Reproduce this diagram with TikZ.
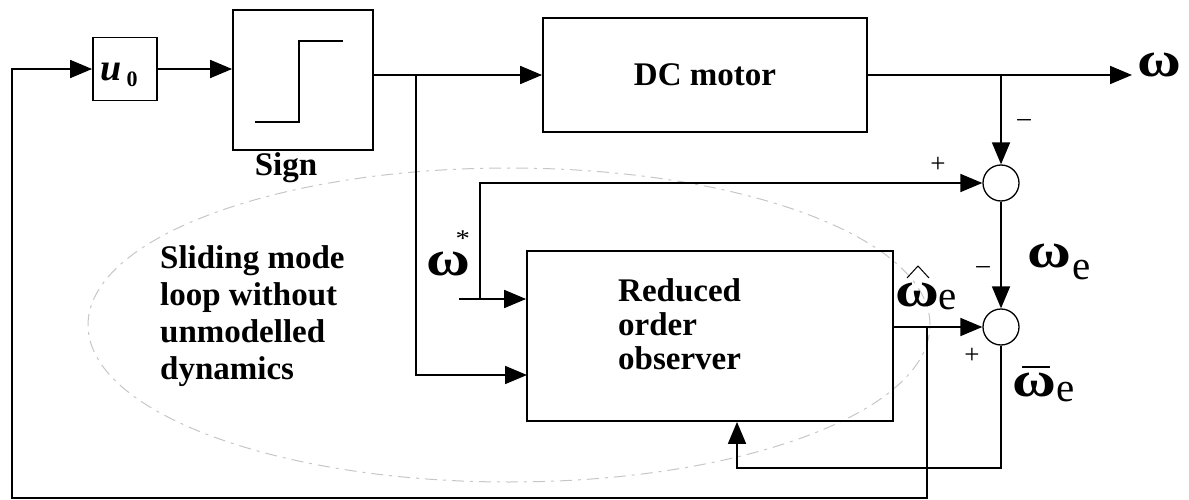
\documentclass[tikz,border=0pt]{standalone}
\usepackage{fontspec}
\setmainfont{Liberation Serif}
\usetikzlibrary{arrows.meta}
\begin{document}
\begin{tikzpicture}[x=1pt,y=-1pt,
  blk/.style={draw, line width=1.8pt, inner sep=0pt, font=\fontsize{33}{37}\selectfont\bfseries},
  sumc/.style={circle, draw, line width=1.3pt, minimum size=36pt, inner sep=0pt},
  conn/.style={line width=1.8pt},
  arr/.style={conn, -{Triangle[length=22pt,width=18pt]}},
  txt/.style={font=\fontsize{33}{37}\selectfont\bfseries, inner sep=0pt},
  sgn/.style={font=\fontsize{27}{27}\selectfont, inner sep=0pt},
  om/.style={font=\fontsize{50}{50}\selectfont\bfseries, inner sep=0pt, xscale=1.2, text height=1ex, text depth=0pt},
  sub/.style={font=\fontsize{41}{41}\selectfont, inner sep=0pt, text height=1ex, text depth=0pt}]
\useasboundingbox (0,0) rectangle (1189,500);
% dashed ellipse
\draw[gray!45, line width=1pt, dash pattern=on 12pt off 6pt on 3pt off 6pt] (509,325) ellipse [x radius=421pt, y radius=157pt];
% blocks
\node[blk, minimum width=64pt, minimum height=63pt] (u0) at (125,69) {};
\node[inner sep=0pt, font=\fontsize{38}{38}\selectfont\bfseries\itshape, text height=1ex, text depth=0pt] (u0t) at (111,78) {u};
\node[inner sep=0pt, font=\fontsize{22}{22}\selectfont\bfseries, text height=1.4ex, text depth=0pt] (u0s) at (132,83) {0};
\node[blk, minimum width=140pt, minimum height=140pt] (sign) at (303,80) {};
\draw[line width=1.8pt] (255,122) -- (299,122) -- (299,41) -- (343,41);
\node[txt] (signl) at (286,168) {Sign};
\node[blk, minimum width=324pt, minimum height=114pt] (motor) at (705,75) {DC motor};
\node[blk, minimum width=366pt, minimum height=170pt] (obs) at (710,336) {};
\node[txt, align=left, font=\fontsize{33}{34}\selectfont\bfseries, anchor=north west] (obst) at (618,278) {Reduced\\order\\observer};
\node[sumc] (s1) at (1001,183) {};
\node[sumc] (s2) at (1001,327) {};
% text in ellipse
\node[txt, align=left, anchor=north west, font=\fontsize{33}{37}\selectfont\bfseries] (slt) at (160,245) {Sliding mode\\loop without\\unmodelled\\dynamics};
% labels
\node[om] (omega) at (1159,74) {ω};
\node[om] (omst) at (448,273) {ω\llap{\raisebox{29pt}{\fontsize{24}{24}\selectfont\mdseries *}}};
\node[om] (ome) at (1049,265) {ω};
\node[sub] (omes) at (1082,277) {e};
\node[om] (omh) at (917,304) {ω};
\node[sub] (omhs) at (948,307) {e};
\draw[line width=1pt] (907,278) -- (918,266) -- (929,278);
\node[om] (omb) at (1034,394) {ω};
\node[sub] (ombs) at (1066,399) {e};
\draw[line width=1.3pt] (1022,367) -- (1050,367);
\node[sgn] (m1) at (1024,123) {–};
\node[sgn] (p1) at (938,165) {+};
\node[sgn] (m2) at (983,270) {–};
\node[sgn] (p2) at (972,356) {+};
% connectors
\coordinate (fb) at (927,327);
\coordinate (fl) at (12,498);
\draw[arr] (fb) -- (fb |- fl) -- (fl) |- (u0.west);
\draw[arr] (u0.east) -- (u0.east -| sign.west);
\draw[arr] (sign.east |- motor.west) -- (motor.west);
\coordinate (b1) at (416,75);
\coordinate (o2) at (527,375);
\draw[arr] (b1) |- (o2);
\coordinate (ot) at (1132,75);
\draw[arr] (motor.east) -- (ot);
\coordinate (b2) at (1001,75);
\draw[arr] (b2) -- (s1.north);
\coordinate (w0) at (459,299);
\coordinate (w1) at (480,299);
\draw[arr] (w0) -- (w0 -| obs.west);
\draw[arr] (w1) |- (s1.west);
\draw[arr] (s1.south) -- (s2.north);
\draw[arr] (obs.east |- s2.west) -- (s2.west);
\coordinate (c) at (737,468);
\draw[arr] (s2.south) |- (c) -- (c |- obs.south);
\end{tikzpicture}
\end{document}
